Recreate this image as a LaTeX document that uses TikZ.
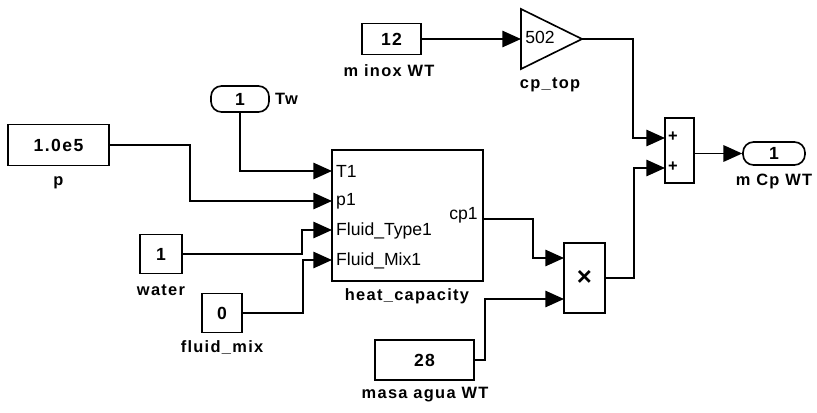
\documentclass[tikz,border=0pt]{standalone}
\usepackage{fontspec}
\setmainfont{Liberation Sans}[LetterSpace=8]
\newfontfamily\portfont{Liberation Sans}
\usetikzlibrary{arrows.meta,positioning}

\begin{document}
\begin{tikzpicture}[x=0.03cm, y=-0.03cm,
    blk/.style={draw, line width=1.4pt, inner sep=0pt, font=\fontsize{15}{17}\selectfont\bfseries},
    ioport/.style={blk, rounded corners=9pt},
    sig/.style={line width=1.6pt, -{Triangle[length=16pt,width=14pt]}},
    lbl/.style={font=\fontsize{14}{16}\selectfont\bfseries},
    pin/.style={font=\portfont\fontsize{15}{17}\selectfont, inner sep=0pt}]
    \fill[white] (0,0) rectangle (817,412);
    \useasboundingbox (0,0) rectangle (817,412);
    % constant blocks and ports
    \node[blk, minimum width=3.03cm, minimum height=1.23cm] (p) at (58.5,145) {1.0e5};
    \node[lbl] (plbl) at (58.5,183) {p};
    \node[ioport, minimum width=1.74cm, minimum height=0.78cm] (tw) at (240,99) {1};
    \node[lbl, anchor=west] (twlbl) at (271,99) {Tw};
    \node[blk, minimum width=1.26cm, minimum height=1.17cm] (water) at (161,254) {1};
    \node[lbl] (waterlbl) at (161,290) {water};
    \node[blk, minimum width=1.2cm, minimum height=1.17cm] (fmix) at (222,313) {0};
    \node[lbl] (fmixlbl) at (222,348) {fluid\_mix};
    \node[blk, minimum width=1.77cm, minimum height=0.93cm] (minox) at (391.5,39) {12};
    \node[lbl] (minoxlbl) at (389,71) {m inox WT};
    \node[blk, minimum width=2.97cm, minimum height=1.2cm] (masa) at (424.5,360) {28};
    \node[lbl] (masalbl) at (425,395) {masa agua WT};
    % heat capacity subsystem
    \node[blk, minimum width=4.53cm, minimum height=3.93cm] (hc) at (407.5,215.5) {};
    \node[lbl] (hclbl) at (407,296) {heat\_capacity};
    \coordinate (hcin1) at (332,171);
    \coordinate (hcin2) at (332,201);
    \coordinate (hcin3) at (332,230);
    \coordinate (hcin4) at (332,260);
    \coordinate (hcout) at (483,219);
    \node[pin, anchor=west] (pt1) at (336,171) {T1};
    \node[pin, anchor=west] (pp1) at (336,201) {p1};
    \node[pin, anchor=west] (pft) at (336,231) {Fluid\_Type1};
    \node[pin, anchor=west] (pfm) at (336,261) {Fluid\_Mix1};
    \node[pin, anchor=east] (pcp) at (478,215) {cp1};
    % gain cp_top
    \coordinate (gin) at (521,39);
    \coordinate (gout) at (582,39);
    \draw[line width=1.4pt] (521,9) -- (gout) -- (521,69) -- cycle;
    \node[pin] (gval) at (540,37) {502};
    \node[lbl] (glbl) at (550,85) {cp\_top};
    % product and sum
    \node[blk, minimum width=1.23cm, minimum height=2.1cm] (prod) at (584.5,278) {\fontsize{22}{22}\selectfont ×};
    \coordinate (prin1) at (564,258);
    \coordinate (prin2) at (564,299);
    \node[blk, minimum width=0.87cm, minimum height=1.95cm] (sum) at (679.5,150.5) {};
    \coordinate (smin1) at (665,138);
    \coordinate (smin2) at (665,168);
    \node[lbl] (plus1) at (673,137) {+};
    \node[lbl] (plus2) at (673,167) {+};
    \node[ioport, minimum width=1.86cm, minimum height=0.69cm] (out) at (774,153.5) {1};
    \node[lbl] (outlbl) at (774,181) {m Cp WT};
    % signal lines
    \draw[sig] (tw.south) |- (hcin1);
    \draw[sig] (p.east) -- (190,145) |- (hcin2);
    \draw[sig] (water.east) -- (302,254) |- (hcin3);
    \draw[sig] (fmix.east) -- (303,313) |- (hcin4);
    \draw[sig] (hcout) -- (533,219) |- (prin1);
    \draw[sig] (masa.east) -- (485,360) |- (prin2);
    \draw[sig] (prod.east) -- (634,278) |- (smin2);
    \draw[sig] (minox.east) -- (gin);
    \draw[sig] (gout) -- (633,39) |- (smin1);
    \draw[sig] (sum.east |- out.west) -- (out.west);
\end{tikzpicture}
\end{document}
